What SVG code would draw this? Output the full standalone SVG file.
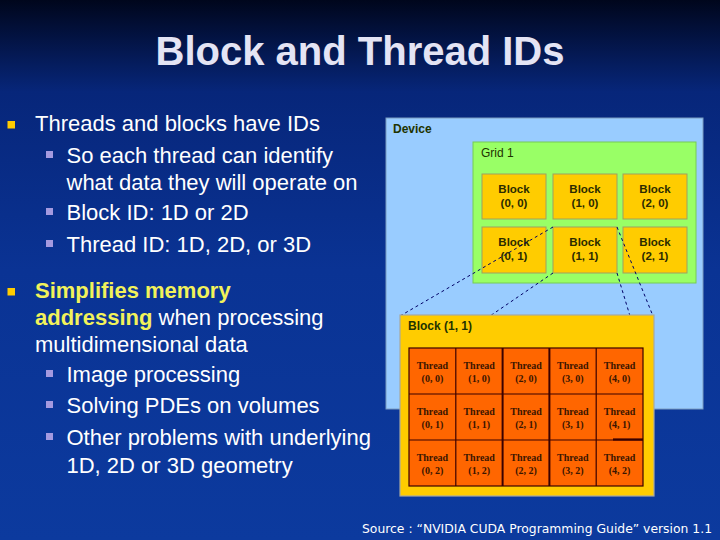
<svg xmlns="http://www.w3.org/2000/svg" width="720" height="540" viewBox="0 0 720 540">
<defs>
<linearGradient id="bg" x1="0" y1="0" x2="0" y2="1">
<stop offset="0" stop-color="#00061c"/>
<stop offset="0.17" stop-color="#07267a"/>
<stop offset="0.5" stop-color="#0a3394"/>
<stop offset="1" stop-color="#0c3a9e"/>
</linearGradient>
<style>
.title{font-family:"Liberation Sans",Arial,sans-serif;font-weight:bold;font-size:40px;fill:#e4e4f4}
.t{font-family:"Liberation Sans",Arial,sans-serif;font-size:22px;fill:#ffffff}
.hl{font-weight:bold;fill:#f2f25a}
.b1{fill:#ffcc00}
.b2{fill:#a49ae0}
.dev{fill:#99ccff;stroke:#7a9cc0;stroke-width:1}
.grid{fill:#99ff66;stroke:#77cc55;stroke-width:1}
.blk{fill:#ffcc00;stroke:#a0a060;stroke-width:1}
.lbl{font-family:"Liberation Sans",Arial,sans-serif;font-size:12px;fill:#1f3300}
.bl{font-family:"Liberation Sans",Arial,sans-serif;font-weight:bold;font-size:11.5px;fill:#2b2b00;text-anchor:middle}
.det{fill:#ffcc00;stroke:#a8a8a0;stroke-width:1.2}
.thr{fill:#ff6600;stroke:#3a0000;stroke-width:1.2}
.tt{font-family:"Liberation Serif","Times New Roman",serif;font-weight:bold;font-size:10px;fill:#3a1500;text-anchor:middle}
.dash{stroke:#000066;stroke-width:1;stroke-dasharray:3,3;fill:none}
.src{font-family:"DejaVu Sans",Verdana,sans-serif;font-size:12.5px;fill:#ffffff}
</style>
</defs>
<rect x="0" y="0" width="720" height="540" fill="url(#bg)"/>
<text class="title" x="360" y="65" text-anchor="middle">Block and Thread IDs</text>

<g id="bullets">
<rect class="b1" x="7.5" y="121" width="7.5" height="7.5"/>
<text class="t" x="35" y="131">Threads and blocks have IDs</text>
<rect class="b2" x="46" y="151" width="7" height="7"/>
<text class="t" x="66.5" y="163">So each thread can identify</text>
<text class="t" x="66.5" y="190">what data they will operate on</text>
<rect class="b2" x="46" y="208" width="7" height="7"/>
<text class="t" x="66.5" y="220">Block ID: 1D or 2D</text>
<rect class="b2" x="46" y="240" width="7" height="7"/>
<text class="t" x="66.5" y="252">Thread ID: 1D, 2D, or 3D</text>
<rect class="b1" x="7.5" y="288" width="7.5" height="7.5"/>
<text class="t" x="35" y="298"><tspan class="hl">Simplifies memory</tspan></text>
<text class="t" x="35" y="325"><tspan class="hl">addressing</tspan> when processing</text>
<text class="t" x="35" y="352">multidimensional data</text>
<rect class="b2" x="46" y="370" width="7" height="7"/>
<text class="t" x="66.5" y="382">Image processing</text>
<rect class="b2" x="46" y="401" width="7" height="7"/>
<text class="t" x="66.5" y="413">Solving PDEs on volumes</text>
<rect class="b2" x="46" y="433" width="7" height="7"/>
<text class="t" x="66.5" y="445">Other problems with underlying</text>
<text class="t" x="66.5" y="473">1D, 2D or 3D geometry</text>
</g>

<g id="device">
<rect class="dev" x="386" y="118" width="317" height="291"/>
<text class="lbl" x="393" y="133" font-weight="bold" fill="#003333">Device</text>
</g>
<g id="grid1">
<rect class="grid" x="473" y="142" width="223" height="141"/>
<text class="lbl" x="481" y="157">Grid 1</text>
</g>
<g id="block00"><rect class="blk" x="482" y="174" width="64" height="45"/><text class="bl" x="514" y="193">Block</text><text class="bl" x="514" y="207">(0, 0)</text></g>
<g id="block10"><rect class="blk" x="553" y="174" width="64" height="45"/><text class="bl" x="585" y="193">Block</text><text class="bl" x="585" y="207">(1, 0)</text></g>
<g id="block20"><rect class="blk" x="623" y="174" width="64" height="45"/><text class="bl" x="655" y="193">Block</text><text class="bl" x="655" y="207">(2, 0)</text></g>
<g id="block01"><rect class="blk" x="482" y="227" width="64" height="46"/><text class="bl" x="514" y="246">Block</text><text class="bl" x="514" y="260">(0, 1)</text></g>
<g id="block11"><rect class="blk" x="553" y="227" width="64" height="46"/><text class="bl" x="585" y="246">Block</text><text class="bl" x="585" y="260">(1, 1)</text></g>
<g id="block21"><rect class="blk" x="623" y="227" width="64" height="46"/><text class="bl" x="655" y="246">Block</text><text class="bl" x="655" y="260">(2, 1)</text></g>

<g id="connectors">
<line class="dash" x1="553" y1="227" x2="400" y2="316"/>
<line class="dash" x1="553" y1="273" x2="490" y2="316"/>
<line class="dash" x1="617" y1="227" x2="653" y2="316"/>
<line class="dash" x1="617" y1="273" x2="630" y2="316"/>
</g>

<g id="block11-detail">
<rect class="det" x="400" y="315" width="254" height="181"/>
<text class="lbl" x="408" y="330" font-weight="bold" fill="#1f3300">Block (1, 1)</text>
<rect class="thr" x="409" y="348" width="234" height="138"/>
<g stroke="#3a0000" stroke-width="1.2">
<line x1="455.8" y1="348" x2="455.8" y2="486"/>
<line x1="502.6" y1="348" x2="502.6" y2="486" stroke-width="2"/>
<line x1="549.4" y1="348" x2="549.4" y2="486" stroke-width="2"/>
<line x1="596.2" y1="348" x2="596.2" y2="486"/>
<line x1="409" y1="394" x2="643" y2="394"/>
<line x1="409" y1="440" x2="643" y2="440"/>
<line x1="613" y1="439.5" x2="643" y2="439.5" stroke-width="2.2"/>
</g>
</g>
<g id="threads">
<g id="t00"><text class="tt" x="432.4" y="369">Thread</text><text class="tt" x="432.4" y="382">(0, 0)</text></g>
<g id="t10"><text class="tt" x="479.2" y="369">Thread</text><text class="tt" x="479.2" y="382">(1, 0)</text></g>
<g id="t20"><text class="tt" x="526" y="369">Thread</text><text class="tt" x="526" y="382">(2, 0)</text></g>
<g id="t30"><text class="tt" x="572.8" y="369">Thread</text><text class="tt" x="572.8" y="382">(3, 0)</text></g>
<g id="t40"><text class="tt" x="619.6" y="369">Thread</text><text class="tt" x="619.6" y="382">(4, 0)</text></g>
<g id="t01"><text class="tt" x="432.4" y="415">Thread</text><text class="tt" x="432.4" y="428">(0, 1)</text></g>
<g id="t11"><text class="tt" x="479.2" y="415">Thread</text><text class="tt" x="479.2" y="428">(1, 1)</text></g>
<g id="t21"><text class="tt" x="526" y="415">Thread</text><text class="tt" x="526" y="428">(2, 1)</text></g>
<g id="t31"><text class="tt" x="572.8" y="415">Thread</text><text class="tt" x="572.8" y="428">(3, 1)</text></g>
<g id="t41"><text class="tt" x="619.6" y="415">Thread</text><text class="tt" x="619.6" y="428">(4, 1)</text></g>
<g id="t02"><text class="tt" x="432.4" y="461">Thread</text><text class="tt" x="432.4" y="474">(0, 2)</text></g>
<g id="t12"><text class="tt" x="479.2" y="461">Thread</text><text class="tt" x="479.2" y="474">(1, 2)</text></g>
<g id="t22"><text class="tt" x="526" y="461">Thread</text><text class="tt" x="526" y="474">(2, 2)</text></g>
<g id="t32"><text class="tt" x="572.8" y="461">Thread</text><text class="tt" x="572.8" y="474">(3, 2)</text></g>
<g id="t42"><text class="tt" x="619.6" y="461">Thread</text><text class="tt" x="619.6" y="474">(4, 2)</text></g>
</g>

<text class="src" x="362" y="533" textLength="350" lengthAdjust="spacingAndGlyphs">Source : “NVIDIA CUDA Programming Guide” version 1.1</text>
</svg>
